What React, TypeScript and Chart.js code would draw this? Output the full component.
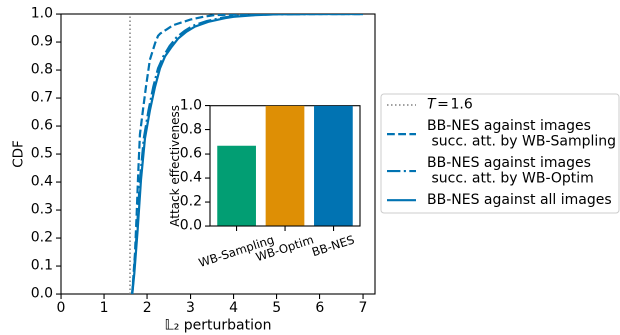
import React, { useEffect, useRef } from "react";
import { Chart, registerables } from "chart.js";

Chart.register(...registerables);

// ---------- data ----------
const thresholdT = 1.6;
const xMax = 7.28;
const xTickValues = [0, 1, 2, 3, 4, 5, 6, 7];
const yTickValues = [0, 0.1, 0.2, 0.3, 0.4, 0.5, 0.6, 0.7, 0.8, 0.9, 1.0];

const samplingX = [1.65, 1.715, 1.755, 1.79, 1.83, 1.91, 1.97, 2.06, 2.18, 2.25, 2.3, 2.45, 2.6, 2.8, 3.0, 3.3, 3.55, 4.0, 4.5, 5.0, 6.0, 7.0];
const samplingY = [0.0, 0.145, 0.288, 0.431, 0.57, 0.669, 0.74, 0.836, 0.895, 0.922, 0.93, 0.945, 0.96, 0.97, 0.98, 0.99, 0.996, 0.998, 0.999, 1.0, 1.0, 1.0];

const optimX = [1.65, 1.69, 1.76, 1.83, 1.92, 2.03, 2.14, 2.25, 2.37, 2.52, 2.68, 2.87, 3.06, 3.38, 3.75, 4.0, 4.5, 5.0, 6.0, 7.0];
const optimY = [0.0, 0.074, 0.229, 0.407, 0.556, 0.657, 0.74, 0.806, 0.848, 0.886, 0.917, 0.94, 0.958, 0.975, 0.987, 0.992, 0.997, 0.999, 1.0, 1.0];

const allX = [1.653, 1.7, 1.777, 1.854, 1.947, 1.986, 2.063, 2.18, 2.295, 2.41, 2.566, 2.72, 2.91, 3.106, 3.415, 3.8, 4.0, 4.5, 5.0, 6.0, 7.0];
const allY = [0.0, 0.074, 0.229, 0.407, 0.556, 0.59, 0.657, 0.74, 0.806, 0.848, 0.883, 0.913, 0.937, 0.955, 0.972, 0.985, 0.99, 0.996, 0.999, 1.0, 1.0];

const seriesLabels = [
  "T=" + thresholdT,
  "BB-NES against images\n succ. att. by WB-Sampling",
  "BB-NES against images\n succ. att. by WB-Optim",
  "BB-NES against all images",
];

const insetCategories = ["WB-Sampling", "WB-Optim", "BB-NES"];
const insetValues = [0.667, 1.0, 1.0];
const insetColors = ["#029e73", "#de8f05", "#0173b2"];
const insetYTicks = [0, 0.2, 0.4, 0.6, 0.8, 1.0];

// ---------- styling / layout ----------
const FONT = "DejaVu Sans";
const W = 620;
const H = 335;
const BLUE = "#0173b2";
const DPR = 2;

Chart.defaults.color = "#000";
Chart.defaults.font.family = FONT;

const boxPlugin = {
  id: "axesBox",
  beforeDraw(chart: any) {
    const { ctx, chartArea: a } = chart;
    ctx.save();
    ctx.fillStyle = "#fff";
    ctx.fillRect(a.left, a.top, a.right - a.left, a.bottom - a.top);
    ctx.restore();
  },
  beforeDatasetsDraw(chart: any) {
    const { ctx, chartArea: a } = chart;
    ctx.save();
    ctx.strokeStyle = "#000";
    ctx.lineWidth = 1.1;
    ctx.strokeRect(a.left, a.top, a.right - a.left, a.bottom - a.top);
    ctx.restore();
  },
};

const legendPlugin = {
  id: "cdfLegend",
  afterDraw(chart: any) {
    const ctx = chart.ctx;
    const ds = chart.data.datasets;
    const left = 381, top = 94, right = 619, bottom = 213;
    ctx.save();
    ctx.beginPath();
    if ((ctx as any).roundRect) (ctx as any).roundRect(left, top, right - left, bottom - top, 3);
    else ctx.rect(left, top, right - left, bottom - top);
    ctx.fillStyle = "rgba(255,255,255,0.8)";
    ctx.fill();
    ctx.strokeStyle = "#cccccc";
    ctx.lineWidth = 1;
    ctx.stroke();

    const fs = 14, gap = 15.5, h1 = 14, sp = 7.4;
    let cursor = top + 4;
    ds.forEach((d: any, i: number) => {
      const lines = String(d.label).split("\n");
      const h = h1 + (lines.length - 1) * gap;
      const cy = cursor + h / 2;
      cursor += h + sp;
      ctx.save();
      ctx.beginPath();
      ctx.setLineDash(d.borderDash || []);
      ctx.strokeStyle = d.borderColor;
      ctx.lineWidth = d.borderWidth;
      ctx.moveTo(387, cy);
      ctx.lineTo(416, cy);
      ctx.stroke();
      ctx.restore();
      ctx.fillStyle = "#000";
      ctx.textBaseline = "middle";
      ctx.textAlign = "left";
      lines.forEach((ln: string, j: number) => {
        const ly = cy - ((lines.length - 1) * gap) / 2 + j * gap;
        if (i === 0) {
          // math-style label: italic T, relation with thick spacing
          ctx.font = `italic ${fs}px "${FONT}"`;
          ctx.fillText("T", 427, ly);
          let x = 427 + ctx.measureText("T").width + 1.6;
          ctx.font = `${fs}px "${FONT}"`;
          ctx.fillText("=", x, ly);
          x += ctx.measureText("=").width + 1.6;
          ctx.fillText(ln.slice(2), x, ly);
        } else {
          ctx.font = `${fs}px "${FONT}"`;
          ctx.fillText(ln, 427, ly);
        }
      });
    });
    ctx.restore();
  },
};

const insetLabelPlugin = {
  id: "insetLabels",
  afterDraw(chart: any) {
    const xs = chart.scales.x;
    const a = chart.chartArea;
    const ctx = chart.ctx;
    const fs = 11.7;
    const th = (18 * Math.PI) / 180;
    insetCategories.forEach((lab, i) => {
      ctx.save();
      ctx.font = `${fs}px "${FONT}"`;
      const w = ctx.measureText(lab).width;
      const h = fs * 1.17;
      const bh = w * Math.sin(th) + h * Math.cos(th);
      const px = xs.getPixelForValue(i);
      const cy = a.bottom + 7.5 + bh / 2;
      ctx.translate(px, cy);
      ctx.rotate(-th);
      ctx.fillStyle = "#000";
      ctx.textAlign = "center";
      ctx.textBaseline = "middle";
      ctx.fillText(lab, 0, 0);
      ctx.restore();
    });
  },
};

const toPoints = (xs: number[], ys: number[]) => xs.map((x, i) => ({ x, y: ys[i] }));

function tickGrid() {
  return {
    display: true,
    drawOnChartArea: false,
    drawTicks: true,
    tickLength: 5,
    color: "#000",
    lineWidth: 1.1,
  };
}

function mainConfig(): any {
  return {
    type: "line",
    data: {
      datasets: [
        {
          label: seriesLabels[0],
          data: [
            { x: thresholdT, y: 0 },
            { x: thresholdT, y: 1 },
          ],
          borderColor: "#808080",
          borderWidth: 1.5,
          borderDash: [1.5, 2.5],
          order: 4,
        },
        {
          label: seriesLabels[1],
          data: toPoints(samplingX, samplingY),
          borderColor: BLUE,
          borderWidth: 2.2,
          borderDash: [7.8, 3.4],
          order: 3,
        },
        {
          label: seriesLabels[2],
          data: toPoints(optimX, optimY),
          borderColor: BLUE,
          borderWidth: 2.2,
          borderDash: [13.4, 3.4, 2.1, 3.4],
          order: 2,
        },
        {
          label: seriesLabels[3],
          data: toPoints(allX, allY),
          borderColor: BLUE,
          borderWidth: 2.2,
          order: 1,
        },
      ],
    },
    options: {
      responsive: false,
      animation: false,
      devicePixelRatio: DPR,
      layout: { padding: { left: 0, top: 14, right: 245, bottom: 0 } },
      plugins: { legend: { display: false }, tooltip: { enabled: false } },
      elements: { point: { radius: 0 }, line: { tension: 0, fill: false } },
      scales: {
        x: {
          type: "linear",
          min: 0,
          max: xMax,
          afterBuildTicks: (s: any) => {
            s.ticks = xTickValues.map((v) => ({ value: v }));
          },
          afterFit: (s: any) => {
            s.height = 41;
          },
          ticks: {
            font: { family: FONT, size: 14 },
            color: "#000",
            padding: 1,
            maxRotation: 0,
            autoSkip: false,
            callback: (v: any) => String(v),
          },
          grid: tickGrid(),
          border: { display: false },
          title: {
            display: true,
            text: "𝕃₂ perturbation",
            font: { family: FONT, size: 14 },
            color: "#000",
            padding: { top: 0, bottom: 0.6 },
          },
        },
        y: {
          type: "linear",
          min: 0,
          max: 1,
          afterBuildTicks: (s: any) => {
            s.ticks = yTickValues.map((v) => ({ value: v }));
          },
          afterFit: (s: any) => {
            s.width = 61;
          },
          ticks: {
            font: { family: FONT, size: 14 },
            color: "#000",
            padding: 3,
            autoSkip: false,
            callback: (v: any) => Number(v).toFixed(1),
          },
          grid: tickGrid(),
          border: { display: false },
          title: {
            display: true,
            text: "CDF",
            font: { family: FONT, size: 13.5 },
            color: "#000",
            padding: { top: 11, bottom: 0 },
          },
        },
      },
    },
    plugins: [boxPlugin, legendPlugin],
  };
}

function insetConfig(): any {
  return {
    type: "bar",
    data: {
      datasets: [
        {
          data: insetValues.map((v, i) => ({ x: i, y: v })),
          backgroundColor: insetColors,
          borderWidth: 0,
          barPercentage: 0.8,
          categoryPercentage: 1,
        },
      ],
    },
    options: {
      responsive: false,
      animation: false,
      devicePixelRatio: DPR,
      layout: { padding: { left: 0, top: 20.7, right: 10, bottom: 0 } },
      plugins: { legend: { display: false }, tooltip: { enabled: false } },
      scales: {
        x: {
          type: "linear",
          min: -0.55,
          max: 2.55,
          offset: false,
          afterBuildTicks: (s: any) => {
            s.ticks = insetCategories.map((_, i) => ({ value: i }));
          },
          afterFit: (s: any) => {
            s.height = 59;
          },
          ticks: { display: false },
          grid: { ...tickGrid(), offset: false },
          border: { display: false },
        },
        y: {
          type: "linear",
          min: 0,
          max: 1,
          afterBuildTicks: (s: any) => {
            s.ticks = insetYTicks.map((v) => ({ value: v }));
          },
          afterFit: (s: any) => {
            s.width = 60;
          },
          ticks: {
            font: { family: FONT, size: 14 },
            color: "#000",
            padding: 3,
            autoSkip: false,
            callback: (v: any) => Number(v).toFixed(1),
          },
          grid: tickGrid(),
          border: { display: false },
          title: {
            display: true,
            text: "Attack effectiveness",
            font: { family: FONT, size: 12 },
            color: "#000",
            padding: { top: 18.6, bottom: 0 },
          },
        },
      },
    },
    plugins: [boxPlugin, insetLabelPlugin],
  };
}

export default function App() {
  const mainRef = useRef<HTMLCanvasElement>(null);
  const insetRef = useRef<HTMLCanvasElement>(null);

  useEffect(() => {
    document.body.style.margin = "0";
    document.documentElement.style.overflow = "hidden";
    const c1 = new Chart(mainRef.current as HTMLCanvasElement, mainConfig());
    const c2 = new Chart(insetRef.current as HTMLCanvasElement, insetConfig());
    return () => {
      c1.destroy();
      c2.destroy();
    };
  }, []);

  return (
    <div style={{ position: "absolute", left: 0, top: 0, width: W, height: H, background: "#fff" }}>
      <canvas
        ref={mainRef}
        width={W}
        height={H}
        style={{ position: "absolute", left: 0, top: 0, width: W, height: H }}
      />
      <canvas
        ref={insetRef}
        width={220}
        height={200}
        style={{ position: "absolute", left: 150, top: 85, width: 220, height: 200 }}
      />
    </div>
  );
}
